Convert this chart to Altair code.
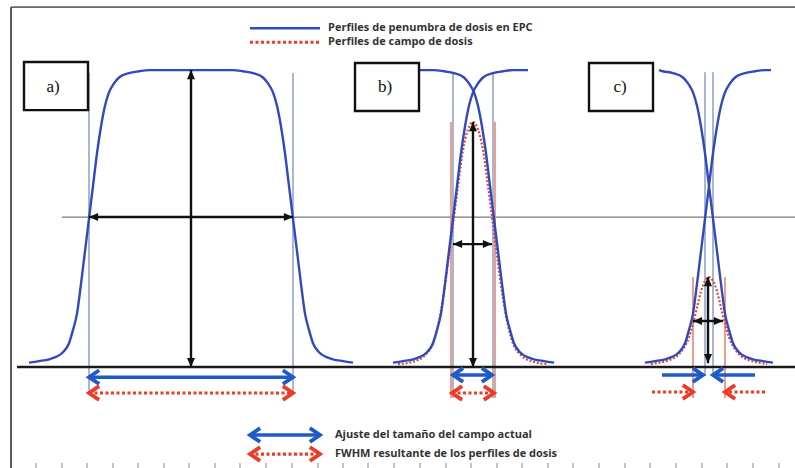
import altair as alt
import pandas as pd

# ---------------- data (x in figure units, y in relative dose %) ----------------
# penumbra edge profile: offset from the 50 % point vs dose
EDGE_OFFSET = [-60, -50, -40, -33, -26, -20, -16, -12, -8, -4, 0, 4, 8, 12, 16, 20, 25, 30, 40, 50, 60]
EDGE_DOSE = [1.5, 2.0, 2.6, 3.4, 5.0, 8.0, 12.5, 18, 28, 39, 50, 61, 72, 81, 88, 92.5, 95.5, 97.5, 99, 99.6, 100]

# EPC penumbra curves: rising edge, falling edge, plateau limits
CURVE_ID = ["a", "b1", "b2", "c1", "c2"]
CURVE_RISE = [89, 453, None, 705, None]
CURVE_FALL = [293, None, 494, None, 713]
CURVE_LEFT_PLATEAU = [None, None, 420, None, 659]
CURVE_RIGHT_PLATEAU = [None, 528, None, 771, None]

# resulting dose-field profiles (red dotted), symmetric around a centre
RED_CENTER = [473, 709]
RED_B_OFFSET = [0, 5, 10, 15, 20, 25, 30, 35, 40, 48, 60, 75]
RED_B_DOSE = [82.5, 80, 73, 61, 48, 35, 23, 14, 8, 4, 1.8, 1.0]
RED_C_OFFSET = [0, 4, 8, 12, 16, 20, 25, 30, 40, 50, 58]
RED_C_DOSE = [30.3, 29, 25.5, 20, 14.5, 10, 6.5, 4.3, 2.3, 1.5, 1.0]

# field-edge markers
BLUE_EDGE_X = [89, 293, 453, 493, 705, 713]
BLUE_EDGE_TOP = [99, 99, 99.3, 99.3, 99.3, 99.3]
BLUE_EDGE_BOTTOM = [-8.75, -8.75, -10.4, -10.4, -3, -3]
RED_EDGE_X = [451, 495, 693, 725]
RED_EDGE_TOP = [82.5, 82.5, 30.3, 30.3]
RED_EDGE_BOTTOM = [-10.4, -10.4, -10.4, -10.4]

# arrows
ARROW_STYLE = ["black"] * 6 + ["blue"] * 5 + ["red"] * 5
ARROW_X1 = [191, 89, 473, 453, 708, 693, 89, 453, 662, 755, 250, 89, 452, 652, 765, 250]
ARROW_Y1 = [0, 50.5, 0, 41.4, 1.3, 15.5, -3.4, -2.7, -2.7, -2.7, -22.9, -8.75, -8.75, -8.4, -8.4, -29.3]
ARROW_X2 = [191, 293, 473, 492, 708, 723, 293, 492, 703, 713, 320, 293, 494, 693, 725, 320]
ARROW_Y2 = [100, 50.5, 82.5, 41.4, 30.3, 15.5, -3.4, -2.7, -2.7, -2.7, -22.9, -8.75, -8.75, -8.4, -8.4, -29.3]
ARROW_HEADS = ["both"] * 8 + ["end", "end", "both", "both", "both", "end", "end", "both"]

# panel label boxes
BOX_LABEL = ["a)", "b)", "c)"]
BOX_X1 = [24, 355, 589]
BOX_X2 = [88, 419, 653]
BOX_Y1 = [86.5, 86.2, 86.2]
BOX_Y2 = [102.7, 102.4, 102.4]
BOX_TEXT_X = [53, 385, 620]
BOX_TEXT_Y = [94.3, 94.3, 94.3]

# legends
LEGEND_TOP_TEXT = ["Perfiles de penumbra de dosis en EPC", "Perfiles de campo de dosis"]
LEGEND_TOP_Y = [114.1, 109.4]
LEGEND_BOTTOM_TEXT = ["Ajuste del tamaño del campo actual", "FWHM resultante de los perfiles de dosis"]
LEGEND_BOTTOM_Y = [-22.9, -29.3]
LEGEND_SAMPLE_X = [250, 320]
LEGEND_TEXT_X = [328, 335]

# reference lines
BASELINE = [17, 795, 0]
HALF_LINE = [62, 795, 50.5]
FRAME_TOP = [11, 795, 121.2]
FRAME_LEFT = [11, -34, 121.2]
TICK_X = [36, 62, 87, 113, 138, 164, 189, 215, 240, 266, 292, 318, 343, 368, 394,
          420, 446, 471, 497, 522, 548, 573, 599, 625, 650, 676, 702, 727, 753, 779]
TICK_Y = [-32.3, -34]

# ---------------- build tables ----------------
rows = []
for i, cid in enumerate(CURVE_ID):
    pts = []
    if CURVE_LEFT_PLATEAU[i] is not None:
        pts.append((CURVE_LEFT_PLATEAU[i], 100))
    if CURVE_RISE[i] is not None:
        pts += [(CURVE_RISE[i] + o, d) for o, d in zip(EDGE_OFFSET, EDGE_DOSE)]
    if CURVE_FALL[i] is not None:
        pts += [(CURVE_FALL[i] - o, d) for o, d in zip(EDGE_OFFSET[::-1], EDGE_DOSE[::-1])]
    if CURVE_RIGHT_PLATEAU[i] is not None:
        pts.append((CURVE_RIGHT_PLATEAU[i], 100))
    lo = CURVE_LEFT_PLATEAU[i]
    if lo is not None:
        pts = [p for p in pts if p[0] >= lo]
    for k, (x, d) in enumerate(pts):
        rows.append({"x": x, "y": d, "curve": cid, "order": k})
blue_df = pd.DataFrame(rows)

rows = []
for cid, c, offs, doses in [("b", RED_CENTER[0], RED_B_OFFSET, RED_B_DOSE),
                            ("c", RED_CENTER[1], RED_C_OFFSET, RED_C_DOSE)]:
    seq = [(c - o, d) for o, d in zip(offs[::-1], doses[::-1])] + \
          [(c + o, d) for o, d in zip(offs[1:], doses[1:])]
    for k, (x, d) in enumerate(seq):
        rows.append({"x": x, "y": d, "curve": cid, "order": k})
red_df = pd.DataFrame(rows)

blue_edges = pd.DataFrame({"x": BLUE_EDGE_X, "y": BLUE_EDGE_TOP, "y2": BLUE_EDGE_BOTTOM})
red_edges = pd.DataFrame({"x": RED_EDGE_X, "y": RED_EDGE_TOP, "y2": RED_EDGE_BOTTOM})

arrows = pd.DataFrame({"style": ARROW_STYLE, "x": ARROW_X1, "y": ARROW_Y1,
                       "x2": ARROW_X2, "y2": ARROW_Y2, "heads": ARROW_HEADS})

SHAPES = {
    "black": {"right": "M0,0L-1.6,-0.7L-1.6,0.7Z", "left": "M0,0L1.6,-0.7L1.6,0.7Z",
              "up": "M0,0L-0.7,1.6L0.7,1.6Z", "down": "M0,0L-0.7,-1.6L0.7,-1.6Z"},
    "chev": {"right": "M-1.4,-0.95L0,0L-1.4,0.95", "left": "M1.4,-0.95L0,0L1.4,0.95"},
}
COLORS = {"black": "#111111", "blue": "#1f5bc8", "red": "#ec3b26"}
head_rows = []
for r in arrows.itertuples():
    ends = [(r.x2, r.y2, r.x, r.y)]
    if r.heads == "both":
        ends.append((r.x, r.y, r.x2, r.y2))
    for tx, ty, ox, oy in ends:
        if ty == oy:
            d = "right" if tx > ox else "left"
        else:
            d = "up" if ty > oy else "down"
        kind = "black" if r.style == "black" else "chev"
        head_rows.append({"x": tx, "y": ty, "shape": SHAPES[kind][d],
                          "kind": kind, "color": COLORS[r.style]})
heads = pd.DataFrame(head_rows)

boxes = pd.DataFrame({"x": BOX_X1, "x2": BOX_X2, "y": BOX_Y1, "y2": BOX_Y2,
                      "tx": BOX_TEXT_X, "ty": BOX_TEXT_Y, "label": BOX_LABEL})

lines_h = pd.DataFrame({"x": [BASELINE[0], HALF_LINE[0], FRAME_TOP[0]],
                        "x2": [BASELINE[1], HALF_LINE[1], FRAME_TOP[1]],
                        "y": [BASELINE[2], HALF_LINE[2], FRAME_TOP[2]],
                        "kind": ["base", "half", "frame"]})
frame_v = pd.DataFrame({"x": [FRAME_LEFT[0]], "y": [FRAME_LEFT[1]], "y2": [FRAME_LEFT[2]]})
ticks = pd.DataFrame({"x": TICK_X, "y": [TICK_Y[0]] * len(TICK_X), "y2": [TICK_Y[1]] * len(TICK_X)})

legend_top = pd.DataFrame({"x": [LEGEND_SAMPLE_X[0]] * 2, "x2": [LEGEND_SAMPLE_X[1]] * 2,
                           "y": LEGEND_TOP_Y, "tx": [LEGEND_TEXT_X[0]] * 2,
                           "text": LEGEND_TOP_TEXT, "kind": ["blue", "red"]})
legend_bottom = pd.DataFrame({"tx": [LEGEND_TEXT_X[1]] * 2, "y": LEGEND_BOTTOM_Y,
                              "text": LEGEND_BOTTOM_TEXT})

# ---------------- chart ----------------
XS = alt.Scale(domain=[0, 795], nice=False, zero=False)
YS = alt.Scale(domain=[-34.0, 123.6], nice=False, zero=False)


def X(f="x"):
    return alt.X(f"{f}:Q", scale=XS, axis=None)


def Y(f="y"):
    return alt.Y(f"{f}:Q", scale=YS, axis=None)


layers = []
# frame and ticks
layers.append(alt.Chart(lines_h[lines_h.kind == "frame"]).mark_rule(color="#666666", strokeWidth=1.6)
              .encode(x=X(), x2="x2:Q", y=Y()))
layers.append(alt.Chart(frame_v).mark_rule(color="#333333", strokeWidth=1.6)
              .encode(x=X(), y=Y(), y2="y2:Q"))
layers.append(alt.Chart(ticks).mark_rule(color="#888888", strokeWidth=1)
              .encode(x=X(), y=Y(), y2="y2:Q"))
# half-max line
layers.append(alt.Chart(lines_h[lines_h.kind == "half"]).mark_rule(color="#7a7a7a", strokeWidth=1.3)
              .encode(x=X(), x2="x2:Q", y=Y()))
# field edge markers
layers.append(alt.Chart(blue_edges).mark_rule(color="#8799bd", strokeWidth=1.4)
              .encode(x=X(), y=Y(), y2="y2:Q"))
layers.append(alt.Chart(red_edges).mark_rule(color="#e27f6e", strokeWidth=1.5)
              .encode(x=X(), y=Y(), y2="y2:Q"))
# baseline
layers.append(alt.Chart(lines_h[lines_h.kind == "base"]).mark_rule(color="#1a1a1a", strokeWidth=2.4)
              .encode(x=X(), x2="x2:Q", y=Y()))
# profiles
layers.append(alt.Chart(red_df).mark_line(color="#dd4a3c", strokeWidth=2.2, strokeDash=[2, 1.8],
                                          interpolate="monotone")
              .encode(x=X(), y=Y(), detail="curve:N", order="order:Q"))
layers.append(alt.Chart(blue_df).mark_line(color="#3048c0", strokeWidth=2.4, interpolate="monotone")
              .encode(x=X(), y=Y(), detail="curve:N", order="order:Q"))
# arrow shafts
layers.append(alt.Chart(arrows[arrows["style"] == "black"]).mark_rule(color=COLORS["black"], strokeWidth=2.4)
              .encode(x=X(), y=Y(), x2="x2:Q", y2="y2:Q"))
layers.append(alt.Chart(arrows[arrows["style"] == "blue"]).mark_rule(color=COLORS["blue"], strokeWidth=3.5)
              .encode(x=X(), y=Y(), x2="x2:Q", y2="y2:Q"))
layers.append(alt.Chart(arrows[arrows["style"] == "red"]).mark_rule(color=COLORS["red"], strokeWidth=3.2,
                                                                     strokeDash=[3, 2.5])
              .encode(x=X(), y=Y(), x2="x2:Q", y2="y2:Q"))
# arrow heads
layers.append(alt.Chart(heads[heads.kind == "black"]).mark_point(filled=True, size=130, opacity=1,
                                                                 color=COLORS["black"], strokeWidth=0)
              .encode(x=X(), y=Y(), shape=alt.Shape("shape:N", scale=None)))
layers.append(alt.Chart(heads[heads.kind == "chev"]).mark_point(filled=False, size=210, opacity=1,
                                                                strokeWidth=3.8, strokeJoin="miter")
              .encode(x=X(), y=Y(), shape=alt.Shape("shape:N", scale=None),
                      color=alt.Color("color:N", scale=None)))
# legends
layers.append(alt.Chart(legend_top[legend_top.kind == "blue"]).mark_rule(color="#2f4cc0", strokeWidth=2.6)
              .encode(x=X(), x2="x2:Q", y=Y()))
layers.append(alt.Chart(legend_top[legend_top.kind == "red"]).mark_rule(color=COLORS["red"], strokeWidth=3,
                                                                         strokeDash=[3, 2.5])
              .encode(x=X(), x2="x2:Q", y=Y()))
layers.append(alt.Chart(legend_top).mark_text(align="left", baseline="middle", font="Open Sans",
                                              fontWeight="bold", fontSize=11, color="#333333")
              .encode(x=X("tx"), y=Y(), text="text:N"))
layers.append(alt.Chart(legend_bottom).mark_text(align="left", baseline="middle", font="Open Sans",
                                                 fontWeight="bold", fontSize=11, color="#333333")
              .encode(x=X("tx"), y=Y(), text="text:N"))
# label boxes
layers.append(alt.Chart(boxes).mark_rect(fill="white", stroke="#111111", strokeWidth=2.4)
              .encode(x=X(), x2="x2:Q", y=Y(), y2="y2:Q"))
layers.append(alt.Chart(boxes).mark_text(font="Liberation Serif", fontSize=17, color="#111111",
                                         align="center", baseline="middle")
              .encode(x=X("tx"), y=Y("ty"), text="label:N"))

chart = alt.layer(*layers).properties(width=795, height=468).configure_view(stroke=None).properties(
    autosize=alt.AutoSizeParams(type="none"), padding=0, background="white")

chart.save("out.html", embed_options={"renderer": "svg", "actions": False})
